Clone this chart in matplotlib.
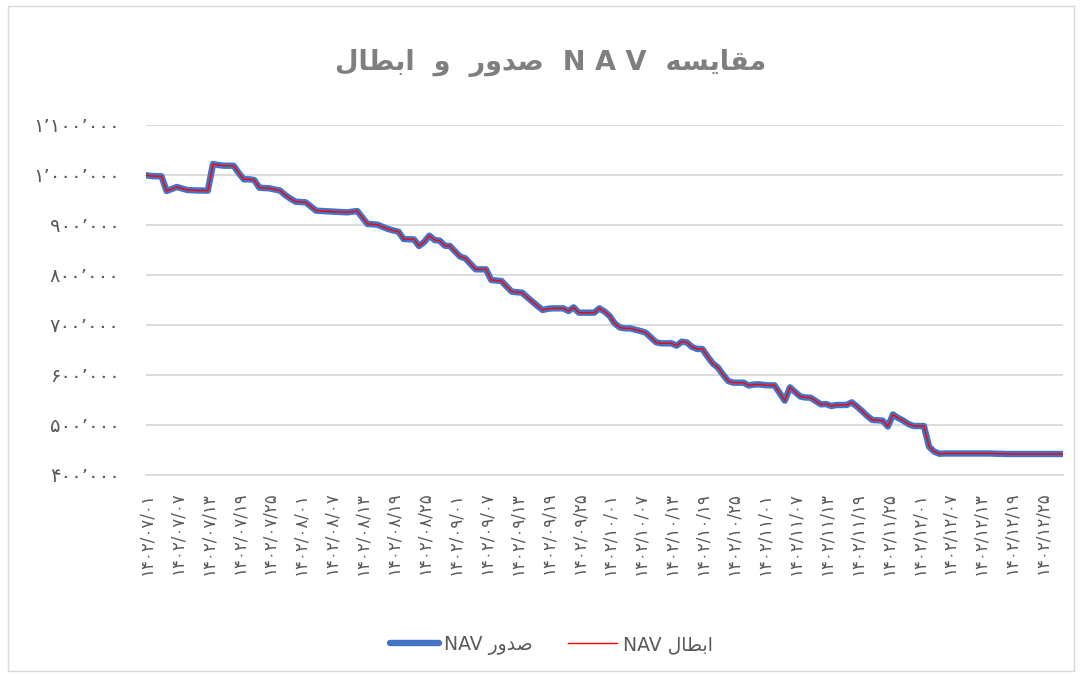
import matplotlib
matplotlib.use("Agg")
import matplotlib.pyplot as plt
from matplotlib.patches import Rectangle

# Persian digits
FA = str.maketrans("0123456789", "\u06f0\u06f1\u06f2\u06f3\u06f4\u06f5\u06f6\u06f7\u06f8\u06f9")

# Title and legend, already shaped (presentation forms, visual order)
title_text = ("\ufedd\ufe8e\ufec4\ufe91\ufe8d  \ufeed  \ufead\ufeed\ufeaa\ufebb  N A V  "
              "\ufeea\ufeb4\ufef3\ufe8e\ufed8\ufee3")
label_issue = "NAV \ufead\ufeed\ufeaa\ufebb"
label_redeem = "NAV \ufedd\ufe8e\ufec4\ufe91\ufe8d"

# daily categories 1402/07/01 .. 1402/12/29
months = [7, 8, 9, 10, 11, 12]
month_days = [30, 30, 30, 30, 30, 29]
dates = []
for m, nd in zip(months, month_days):
    for d in range(1, nd + 1):
        dates.append("1402/%02d/%02d" % (m, d))

# NAV values (rial)
nav_issue = [
    999500, 998000, 997500, 997500, 968000, 972000, 976000, 973000, 970000, 969500,
    969000, 969000, 968700, 1022000, 1020000, 1018700, 1018700, 1018500, 1004000, 991300,
    991500, 990000, 974700, 974000, 973300, 971000, 969000, 960000, 953000, 946700,
    946000, 945300, 937000, 928700, 928000, 927500, 927000, 926500, 925800, 925300,
    926500, 928000, 915000, 902000, 901500, 900500, 896000, 892000, 889000, 886700,
    872000, 871500, 871300, 858000, 866000, 878700, 870000, 868700, 858700, 858000,
    847000, 836700, 833300, 822000, 811300, 811300, 811300, 790000, 789000, 788000,
    777000, 766700, 765500, 764700, 755500, 746700, 738000, 730000, 732500, 733300,
    733300, 733300, 728000, 735300, 724700, 724700, 724700, 724700, 733300, 727000,
    718000, 703000, 695000, 693300, 693300, 690500, 688000, 684700, 675000, 665500,
    663300, 663300, 663300, 658700, 666700, 665000, 656000, 652000, 652000, 637000,
    623300, 615000, 601000, 588000, 584700, 584700, 584700, 579000, 581000, 581300,
    580000, 579300, 579300, 564000, 548700, 575300, 566000, 557000, 555000, 554700,
    548000, 541300, 542000, 538000, 540000, 540000, 540000, 545300, 537000, 528000,
    518000, 510000, 509500, 508700, 497000, 521000, 514000, 508700, 502000, 498000,
    498000, 498000, 456700, 446700, 442500, 443000, 443000, 443000, 443000, 443000,
    443000, 443000, 443000, 443000, 443000, 442500, 442500, 442000, 442000, 442000,
    442000, 442000, 442000, 442000, 442000, 442000, 442000, 442000, 442000,
]
# redemption NAV sits right on top of the issue NAV
nav_redeem = list(nav_issue)

y_ticks = [400000, 500000, 600000, 700000, 800000, 900000, 1000000, 1100000]


def fa_number(v):
    return "{:,}".format(v).replace(",", "\u066c").translate(FA)


def main():
    fig = plt.figure(figsize=(10.81, 6.75), dpi=100)
    plt.rcParams["font.family"] = ["DejaVu Sans"]
    grey = "#595959"

    ax = fig.add_axes([146 / 1081, 1 - 475 / 675, (1063 - 146) / 1081, 350 / 675])
    x = list(range(len(dates)))
    ax.plot(x, nav_issue, color="#4472C4", lw=4.6, solid_capstyle="round",
            solid_joinstyle="round", label=label_issue, zorder=3)
    ax.plot(x, nav_redeem, color="#FF0000", lw=1.0, label=label_redeem, zorder=4)

    ax.set_xlim(0, len(dates) - 1)
    ax.set_ylim(400000, 1100000)
    ax.set_yticks(y_ticks)
    ax.set_yticklabels([fa_number(v) for v in y_ticks], color=grey, fontsize=14)
    ticks = x[::6]
    ax.set_xticks(ticks)
    ax.set_xticklabels([dates[i].translate(FA) for i in ticks], rotation=90,
                       color=grey, fontsize=12, va="top", ha="center")
    ax.tick_params(axis="both", length=0)
    ax.tick_params(axis="x", pad=12)
    ax.tick_params(axis="y", pad=19)
    ax.grid(axis="y", color="#D9D9D9", lw=1.3)
    ax.set_axisbelow(True)
    for s in ["top", "right", "left"]:
        ax.spines[s].set_visible(False)
    ax.spines["bottom"].set_color("#D9D9D9")
    ax.spines["bottom"].set_linewidth(1.3)

    fig.text(0.509, 1 - 63 / 675, title_text, ha="center", va="center",
             fontsize=19.5, fontweight="bold", color="#7F7F7F")

    fig.legend(loc="center", bbox_to_anchor=(0.51, 1 - 645 / 675), ncol=2,
               frameon=False, fontsize=13.5, labelcolor=grey, handlelength=2.6,
               handletextpad=0.3, columnspacing=1.9)

    fig.patches.append(Rectangle((8 / 1081, 4 / 675), 1066 / 1081, 665 / 675,
                                 transform=fig.transFigure, fill=False,
                                 edgecolor="#D9D9D9", lw=1))

    fig.savefig("out.png", dpi=100)


if __name__ == "__main__":
    main()
